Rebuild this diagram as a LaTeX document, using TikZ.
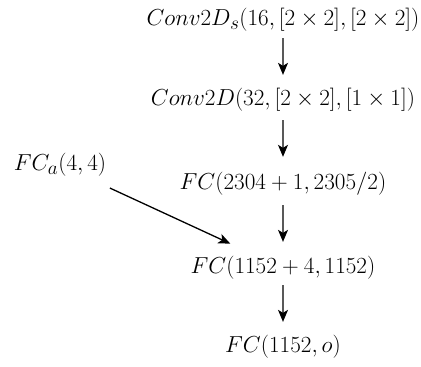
\documentclass[tikz,border=0pt]{standalone}
\usetikzlibrary{arrows.meta,calc}
\begin{document}
\begin{tikzpicture}[x=1pt,y=-1pt,
  lbl/.style={inner sep=0pt,font=\Huge,scale=0.93},
  arr/.style={line width=1.3pt,-{Stealth[length=12pt,width=10pt,inset=3pt]}}]
\useasboundingbox (0,0) rectangle (421,367);
\node[lbl] (c1) at (283,20) {$Conv2D_s(16,[2\times 2],[2\times 2])$};
\node[lbl] (c2) at (283,100) {$Conv2D(32,[2\times 2],[1\times 1])$};
\node[lbl] (f1) at (283,184) {$FC(2304+1,2305/2)$};
\node[lbl] (a) at (60,165) {$FC_a(4,4)$};
\node[lbl] (f2) at (283,268) {$FC(1152+4,1152)$};
\node[lbl] (f3) at (283,347) {$FC(1152,o)$};
\draw[arr,shorten <=6.4pt,shorten >=13.4pt] (c1) -- (c2);
\draw[arr,shorten <=8.4pt,shorten >=15.4pt] (c2) -- (f1);
\draw[arr,shorten <=9.4pt,shorten >=14.4pt] (f1) -- (f2);
\draw[arr,shorten <=5.4pt,shorten >=13.4pt] (f2) -- (f3);
\draw[arr,shorten <=55pt,shorten >=58pt] (a.center) -- (f2.center);
\end{tikzpicture}
\end{document}
